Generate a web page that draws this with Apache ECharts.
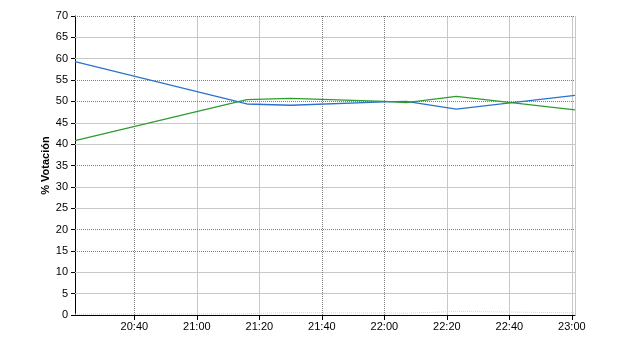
<!DOCTYPE html>
<html>
<head>
<meta charset="utf-8">
<script src="https://cdn.jsdelivr.net/npm/echarts@6/dist/echarts.min.js"></script>
<style>html,body{margin:0;padding:0;background:#fff}#c{width:640px;height:350px}</style>
</head>
<body>
<div id="c"></div>
<script>
// ---- data ----
var times = ['20:21', '21:16', '21:30', '22:00', '22:07', '22:23', '23:01'];
var blueValues = [59.3, 49.4, 49.1, 49.9, 50.0, 48.2, 51.4];
var greenValues = [40.8, 50.4, 50.7, 50.0, 49.7, 51.2, 48.0];
var faintValues = [0.2, 0.3, 0.55, 0.45, 0.4, 0.85, 0.5];
var xTickLabels = ['20:40', '21:00', '21:20', '21:40', '22:00', '22:20', '22:40', '23:00'];
var ySolidGrid = [5, 10, 25, 30, 40, 45, 60, 65];
var yDottedGrid = [15, 20, 35, 50, 55, 70];
var xSolidGrid = ['21:00', '21:20', '22:20', '22:40', '23:00'];
var xDottedGrid = ['20:40', '21:40', '22:00'];

function toMin(s) { var p = s.split(':'); return (+p[0]) * 60 + (+p[1]); }
function fmt(v) {
  var h = Math.floor(v / 60), m = Math.round(v - h * 60);
  return (h < 10 ? '0' : '') + h + ':' + (m < 10 ? '0' : '') + m;
}
var tm = times.map(toMin);
function pairs(vals) { return tm.map(function (t, i) { return [t, vals[i]]; }); }

var solidStyle = { color: '#c8c8c8', type: 'solid', width: 1 };
var dotStyle = { color: '#808080', type: [1, 1], width: 1 };
var gridLines = [];
ySolidGrid.forEach(function (v) { gridLines.push({ yAxis: v, lineStyle: solidStyle }); });
xSolidGrid.forEach(function (v) { gridLines.push({ xAxis: toMin(v), lineStyle: solidStyle }); });
gridLines.push({ xAxis: tm[tm.length - 1], lineStyle: solidStyle });
yDottedGrid.forEach(function (v) { gridLines.push({ yAxis: v, lineStyle: dotStyle }); });
xDottedGrid.forEach(function (v) { gridLines.push({ xAxis: toMin(v), lineStyle: dotStyle }); });

var font = 'Liberation Sans, Arial, sans-serif';
var chart = echarts.init(document.getElementById('c'));
chart.setOption({
  animation: false,
  grid: { left: 75, right: 65, top: 16, bottom: 35 },
  xAxis: {
    type: 'value',
    min: tm[0],
    max: tm[tm.length - 1],
    axisLine: { show: true, lineStyle: { color: '#000', width: 1 } },
    axisTick: { show: true, length: 5, lineStyle: { color: '#000' }, customValues: xTickLabels.map(toMin) },
    axisLabel: { customValues: xTickLabels.map(toMin), formatter: function (v) { return fmt(v); },
      color: '#000', fontFamily: font, fontSize: 11, margin: 6 },
    splitLine: { show: false }
  },
  yAxis: {
    type: 'value',
    min: 0, max: 70, interval: 5,
    name: '% Votación',
    nameLocation: 'middle',
    nameGap: 24,
    nameMoveOverlap: false,
    nameTextStyle: { color: '#000', fontFamily: font, fontSize: 11, fontWeight: 'bold' },
    axisLine: { show: true, lineStyle: { color: '#000', width: 1 } },
    axisTick: { show: true, length: 4, lineStyle: { color: '#000' } },
    axisLabel: { color: '#000', fontFamily: font, fontSize: 11, margin: 7 },
    splitLine: { show: false }
  },
  series: [
    {
      type: 'line', z: 1, data: pairs(faintValues), symbol: 'none',
      lineStyle: { color: '#d4d4d4', width: 1, type: [1, 1] },
      markLine: { silent: true, z: 1, symbol: ['none', 'none'], label: { show: false },
        emphasis: { disabled: true }, animation: false, data: gridLines }
    },
    {
      type: 'line', z: 3, data: pairs(blueValues), symbol: 'none',
      lineStyle: { color: '#2a72cc', width: 1.3 }
    },
    {
      type: 'line', z: 3, data: pairs(greenValues), symbol: 'none',
      lineStyle: { color: '#2e9c2e', width: 1.3 }
    }
  ]
});
</script>
</body>
</html>
